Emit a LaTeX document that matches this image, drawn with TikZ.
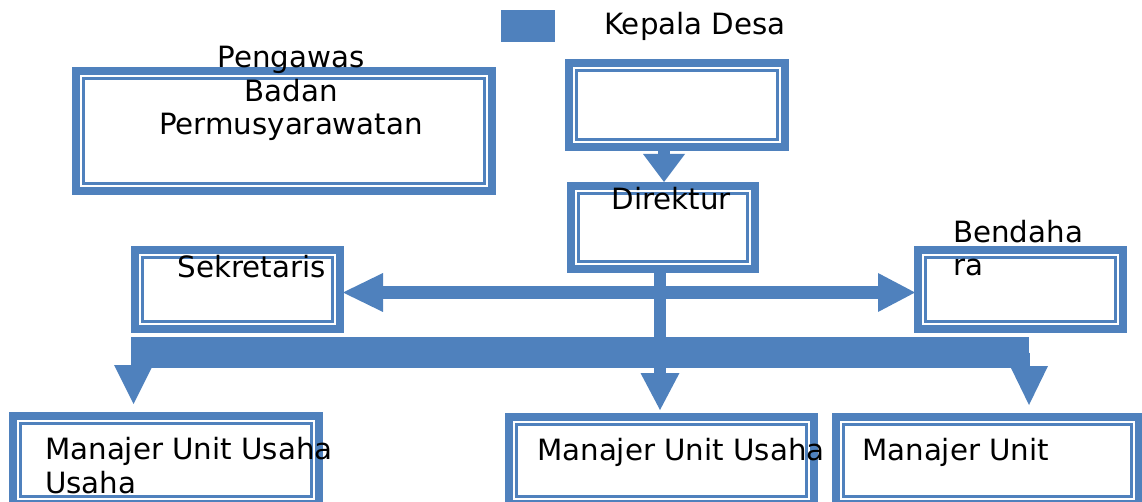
\documentclass[tikz,border=0pt]{standalone}
\usepackage{fontspec}
\setmainfont{DejaVu Sans}
\usetikzlibrary{arrows.meta}
\definecolor{bc}{HTML}{4F81BD}
\begin{document}
\begin{tikzpicture}[x=1pt,y=-1pt,
  dbox/.style 2 args={draw=bc, line width=8pt, outer sep=4pt, inner sep=0pt,
    minimum width=#1, minimum height=#2,
    path picture={\draw[bc, line width=2.7pt]
      ([shift={(7.5pt,-7.5pt)}]path picture bounding box.north west) rectangle
      ([shift={(-7.5pt,7.5pt)}]path picture bounding box.south east);}},
  txt/.style={font=\fontsize{29.3}{33.8}\selectfont, inner sep=0pt, anchor=base west},
  tipa/.style 2 args={-{Triangle[length=#1, width=#2, line width=0pt]}},
  blk/.style={draw=bc, color=bc}
]
\useasboundingbox (0,0) rectangle (1142,502);
\clip (0,0) rectangle (1142,502);

% boxes
\node[dbox={216pt}{84pt}] (kepala) at (677,105) {};
\node[dbox={416pt}{120pt}] (bpd) at (284,131) {};
\node[dbox={184pt}{83pt}] (dir) at (663,227.5) {};
\node[dbox={205pt}{79pt}] (sek) at (237.5,289.5) {};
\node[dbox={205pt}{79pt}] (bend) at (1020.5,289.5) {};
\node[dbox={306pt}{88pt}] (mu1) at (166,460) {};
\node[dbox={305pt}{87pt}] (mu2) at (661.5,460.5) {};
\node[dbox={303pt}{87pt}] (mu3) at (987.5,460.5) {};
\node[fill=bc, minimum width=54pt, minimum height=32pt, inner sep=0pt, outer sep=0pt] (legend) at (528,26) {};

% connectors
\draw[blk, line width=12pt, tipa={28pt}{42pt}] ([xshift=-13pt]kepala.south) -- ([xshift=1pt]dir.north);
\draw[blk, line width=12pt, tipa={37pt}{39pt}] ([xshift=-3pt]dir.south) -- ([xshift=-1.5pt,yshift=3pt]mu2.north);
\draw[blk, line width=13pt, {Triangle[length=40pt,width=39pt,line width=0pt]}-{Triangle[length=37pt,width=39pt,line width=0pt]}]
  ([shift={(-1pt,-3pt)}]sek.east) -- ([shift={(1pt,-3pt)}]bend.west);
\coordinate (barL) at (131,352.5);
\coordinate (barR) at (1029,352.5);
\coordinate (tipL) at (133.5,404);
\coordinate (tipR) at (1029,405);
\draw[blk, line width=31pt] (barL) -- (barR);
\draw[blk, line width=2pt, tipa={39pt}{39pt}] ([xshift=2.5pt]barL) -- (tipL);
\draw[blk, line width=2pt, tipa={39pt}{38pt}] (barR) -- (tipR);

% texts
\node[txt] (tkep) at (604,35) {Kepala Desa};
\node[txt, anchor=base, align=center] (tbpd) at (291,135) {Pengawas\\Badan\\Permusyarawatan};
\node[txt] (tdir) at (611.5,210) {Direktur};
\node[txt] (tsek) at (177.5,278) {Sekretaris};
\node[txt, align=left] (tbend) at (953,276) {Bendaha\\ra};
\node[txt, align=left] (tmu1) at (45,493) {Manajer Unit Usaha\\Usaha};
\node[txt] (tmu2) at (537,460) {Manajer Unit Usaha};
\node[txt] (tmu3) at (862,460) {Manajer Unit};
\end{tikzpicture}
\end{document}
